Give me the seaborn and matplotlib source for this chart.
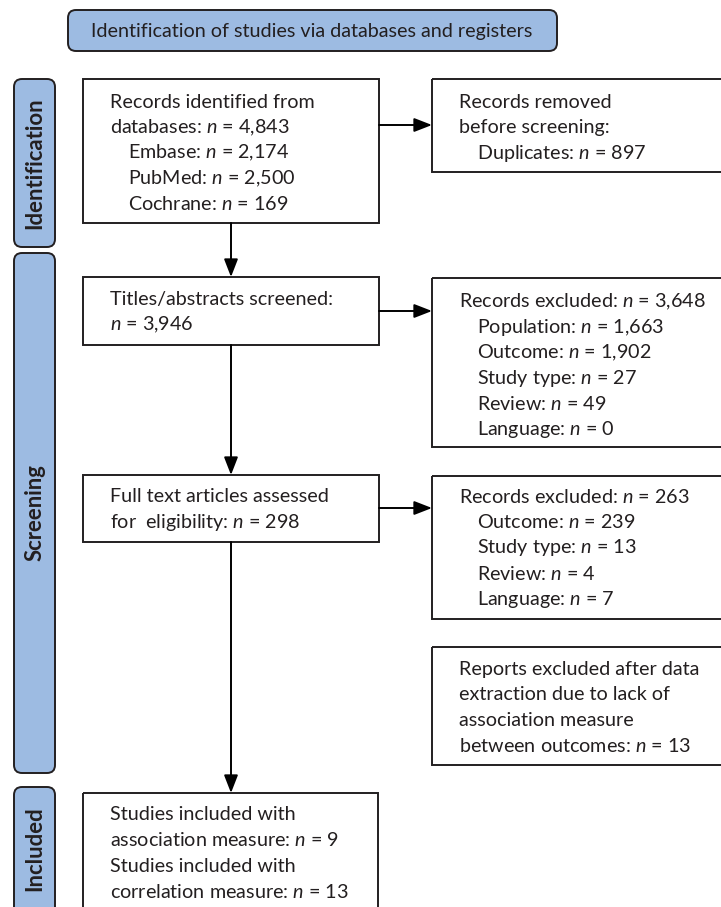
import matplotlib
matplotlib.use("Agg")
import matplotlib.pyplot as plt
from matplotlib.patches import FancyBboxPatch, Rectangle
import seaborn as sns

# ---------------- data ----------------
header_title = "Identification of studies via databases and registers"
stage_labels = ["Identification", "Screening", "Included"]

db_total = "4,843"
db_names = ["Embase", "PubMed", "Cochrane"]
db_counts = ["2,174", "2,500", "169"]

duplicates = "897"
screened = "3,946"

excl1_total = "3,648"
excl1_reasons = ["Population", "Outcome", "Study type", "Review", "Language"]
excl1_counts = ["1,663", "1,902", "27", "49", "0"]

fulltext = "298"
excl2_total = "263"
excl2_reasons = ["Outcome", "Study type", "Review", "Language"]
excl2_counts = ["239", "13", "4", "7"]

excl_extraction = "13"
incl_association = "9"
incl_correlation = "13"

# ---------------- style ----------------
sns.set_theme(style="white")
FONT = "Lato"
plt.rcParams["font.family"] = [FONT, "DejaVu Sans"]
plt.rcParams["mathtext.fontset"] = "custom"
plt.rcParams["mathtext.rm"] = FONT
plt.rcParams["mathtext.it"] = FONT + ":italic"
plt.rcParams["mathtext.bf"] = FONT + ":bold"

W, H = 721, 907
fig = plt.figure(figsize=(W / 100, H / 100), dpi=100)
ax = fig.add_axes([0, 0, 1, 1])
ax.set_xlim(0, W)
ax.set_ylim(H, 0)
ax.axis("off")

# fit font sizes to the reference text widths (px)
renderer = fig.canvas.get_renderer()
def fit(s, target, **kw):
    t = ax.text(0, 0, s, fontsize=10, **kw)
    w = t.get_window_extent(renderer).width
    t.remove()
    return 10 * target / w

FS = fit("Records identified from", 205)
FSB = fit("Identification", 132, fontweight="bold")

TXT = "#231f20"
EDGE = "#231f20"
BLUE = "#9dbbe2"
LH = 25.5  # line height in px

def n_(v):
    return "$n$ = " + v

def box(x0, y0, x1, y1):
    ax.add_patch(Rectangle((x0, y0), x1 - x0, y1 - y0, fill=False,
                           edgecolor=EDGE, linewidth=1.4, zorder=2))

def rbox(x0, y0, x1, y1, r=8):
    ax.add_patch(FancyBboxPatch((x0 + r, y0 + r), (x1 - x0) - 2 * r, (y1 - y0) - 2 * r,
                                boxstyle=f"round,pad={r}", facecolor=BLUE,
                                edgecolor=EDGE, linewidth=1.4, zorder=2,
                                mutation_aspect=1))

def lines(x, y0, items):
    for i, (indent, s) in enumerate(items):
        ax.text(x + indent, y0 + i * LH, s, fontsize=FS, color=TXT,
                ha="left", va="center", zorder=3)

def arrow(x0, y0, x1, y1):
    ax.annotate("", xy=(x1, y1), xytext=(x0, y0),
                arrowprops=dict(arrowstyle="-|>,head_length=0.9,head_width=0.35",
                                color="black", lw=1.4, shrinkA=0, shrinkB=0),
                zorder=3)

# header
rbox(68, 10, 557, 51)
ax.text(312, 31, header_title, fontsize=FS, color=TXT, ha="center", va="center", zorder=3)

# side stage bars
side = [(79, 247), (253, 773), (787, 915)]
for (y0, y1), lab in zip(side, stage_labels):
    rbox(14, y0, 55, y1)
    cy = (y0 + y1) / 2 if y1 < H else 849
    ax.text(35, cy, lab, fontsize=FSB, fontweight="bold", color=TXT,
            rotation=90, ha="center", va="center", zorder=3)

# main column boxes
box(83, 79, 379, 223)
lines(110, 102, [(0, "Records identified from"),
                 (0, "databases: " + n_(db_total))] +
      [(18, f"{nm}: " + n_(c)) for nm, c in zip(db_names, db_counts)])

box(83, 277, 379, 345)
lines(110, 299, [(0, "Titles/abstracts screened:"), (0, n_(screened))])

box(83, 475, 379, 542)
lines(110, 497, [(0, "Full text articles assessed"),
                 (0, "for  eligibility: " + n_(fulltext))])

box(83, 793, 378, 930)
lines(110, 815, [(0, "Studies included with"),
                 (0, "association measure: " + n_(incl_association)),
                 (0, "Studies included with"),
                 (0, "correlation measure: " + n_(incl_correlation))])

# right column boxes
box(432, 79, 760, 172)
lines(459, 102, [(0, "Records removed"), (0, "before screening:"),
                 (18, "Duplicates: " + n_(duplicates))])

box(432, 278, 760, 447)
lines(459, 302, [(0, "Records excluded: " + n_(excl1_total))] +
      [(18, f"{r}: " + n_(c)) for r, c in zip(excl1_reasons, excl1_counts)])

box(432, 476, 760, 619)
lines(459, 497, [(0, "Records excluded: " + n_(excl2_total))] +
      [(18, f"{r}: " + n_(c)) for r, c in zip(excl2_reasons, excl2_counts)])

box(432, 647, 760, 765)
lines(459, 669, [(0, "Reports excluded after data"),
                 (0, "extraction due to lack of"),
                 (0, "association measure"),
                 (0, "between outcomes: " + n_(excl_extraction))])

# arrows
arrow(231, 223, 231, 277)
arrow(231, 345, 231, 475)
arrow(231, 542, 231, 793)
arrow(379, 125, 432, 125)
arrow(379, 311, 432, 311)
arrow(379, 508, 432, 508)

fig.savefig("out.png", dpi=100, facecolor="white")
